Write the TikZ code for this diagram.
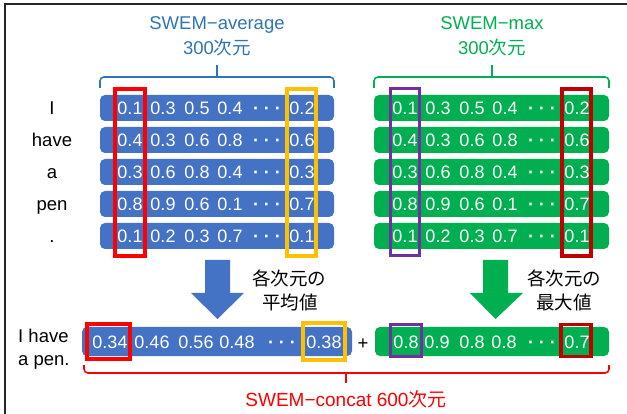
\documentclass[tikz,border=0pt]{standalone}
\usepackage{fontspec}
\setmainfont{Liberation Sans}
\newfontfamily\jp{Noto Sans CJK JP}
\definecolor{swblue}{HTML}{2E75B6}
\definecolor{barblue}{HTML}{4472C4}
\definecolor{bargreen}{HTML}{00B050}
\definecolor{hlred}{HTML}{FF0000}
\definecolor{hlyellow}{HTML}{FFC000}
\definecolor{hlpurple}{HTML}{7030A0}
\definecolor{hldarkred}{HTML}{C00000}
\tikzset{
  bar/.style={rounded corners=5pt, minimum height=26pt, inner sep=0pt, draw=none},
  num/.style={text=white, font=\fontsize{18}{20}\selectfont, anchor=base, inner sep=0pt},
  word/.style={font=\fontsize{18.5}{20}\selectfont, anchor=base, inner sep=0pt},
  titletext/.style={font=\fontsize{18.5}{20}\selectfont, anchor=base, inner sep=0pt},
  hl/.style={draw, line width=3.5pt, inner sep=0pt, fill=none},
  bracket/.style={line width=1.6pt, rounded corners=4pt},
}
\begin{document}
\begin{tikzpicture}[x=1pt,y=-1pt]
\useasboundingbox (0,0) rectangle (627,414);
% frame
\draw[line width=2pt, black!85] (4.5,414) -- (4.5,4.5) -- (627,4.5);

% titles
\node[titletext, text=swblue] (tA) at (217,29.5) {SWEM−average};
\node[titletext, text=swblue] (tA2) at (217,54.5) {300{\jp 次元}};
\node[titletext, text=bargreen] (tM) at (492,29.5) {SWEM−max};
\node[titletext, text=bargreen] (tM2) at (492,54.5) {300{\jp 次元}};

% top brackets
\draw[bracket, swblue] (100,88) -- (100,77) -- (334,77) -- (334,88);
\draw[line width=1.6pt, swblue] (217,77) -- (217,65);
\draw[bracket, bargreen] (374,88) -- (374,77) -- (609,77) -- (609,88);
\draw[line width=1.6pt, bargreen] (492,77) -- (492,65);

% rows
\foreach \r/\w/\a/\b/\c/\d/\e in {1/I/0.1/0.3/0.5/0.4/0.2, 2/have/0.4/0.3/0.6/0.8/0.6, 3/a/0.3/0.6/0.8/0.4/0.3, 4/pen/0.8/0.9/0.6/0.1/0.7, 5/./0.1/0.2/0.3/0.7/0.1}{
  \pgfmathsetmacro\yc{76+32*\r}
  \pgfmathsetmacro\yb{\yc+6.5}
  \node[word] (w\r) at (52,\yb) {\w};
  \node[bar, fill=barblue, minimum width=234pt] (B\r) at (217,\yc) {};
  \node[bar, fill=bargreen, minimum width=235pt] (G\r) at (491.5,\yc) {};
  \foreach \x/\v in {130/\a,163/\b,197/\c,230/\d,302/\e}{
    \node[num] at (\x,\yb) {\v};
    \node[num] at (\x+275,\yb) {\v};
  }
  \node[num, font=\bfseries\fontsize{18}{20}\selectfont] at (267,\yb) {· · ·};
  \node[num, font=\bfseries\fontsize{18}{20}\selectfont] at (542,\yb) {· · ·};
}

% top highlight boxes
\node[hl, draw=hlred, line width=4pt, minimum width=30pt, minimum height=167pt] (hR) at (130,172.5) {};
\node[hl, draw=hlyellow, minimum width=29pt, minimum height=167pt] (hY) at (301.5,172.5) {};
\node[hl, draw=hlpurple, line width=3pt, minimum width=29pt, minimum height=167pt] (hP) at (405,172.5) {};
\node[hl, draw=hldarkred, minimum width=29pt, minimum height=167pt] (hD) at (576.5,172.5) {};

% block arrows
\fill[barblue] (205,260) -- (230,260) -- (230,293) -- (244,293) -- (217.5,319) -- (191,293) -- (205,293) -- cycle;
\fill[bargreen] (483,260) -- (508,260) -- (508,293) -- (523,293) -- (495.5,319) -- (470,293) -- (483,293) -- cycle;
\node[word] (lA1) at (289,286) {\jp 各次元の};
\node[word] (lA2) at (290,309) {\jp 平均値};
\node[word] (lM1) at (564,286) {\jp 各次元の};
\node[word] (lM2) at (564,309) {\jp 最大値};

% bottom sentence
\node[word, anchor=base west] (s1) at (18,342) {I have};
\node[word, anchor=base west] (s2) at (18,366) {a pen.};

% bottom bars
\node[bar, fill=barblue, minimum width=270pt, minimum height=29pt] (BB) at (217,341.5) {};
\node[bar, fill=bargreen, minimum width=234pt, minimum height=29pt] (GB) at (492,341.5) {};
\foreach \x/\v in {110/0.34,152/0.46,196/0.56,237/0.48,324/0.38}{
  \node[num] at (\x,348.5) {\v};
}
\node[num, font=\bfseries\fontsize{18}{20}\selectfont] at (282,348.5) {· · ·};
\foreach \x/\v in {406/0.8,437/0.9,472/0.8,504/0.8,577/0.7}{
  \node[num] at (\x,348.5) {\v};
}
\node[num, font=\bfseries\fontsize{18}{20}\selectfont] at (542,348.5) {· · ·};
\node[word] (plus) at (363,349.5) {+};

% bottom highlight boxes
\node[hl, draw=hlred, line width=4pt, minimum width=43pt, minimum height=35pt] (bR) at (108.5,341.5) {};
\node[hl, draw=hlyellow, minimum width=42pt, minimum height=37pt] (bY) at (324,341.5) {};
\node[hl, draw=hlpurple, line width=3pt, minimum width=31pt, minimum height=32pt] (bP) at (406,340.5) {};
\node[hl, draw=hldarkred, minimum width=30pt, minimum height=32pt] (bD) at (576,340.5) {};

% bottom bracket
\draw[bracket, hlred] (84,365) -- (84,373) -- (609,373) -- (609,365);
\draw[line width=1.6pt, hlred] (346,373) -- (346,383);
\node[titletext, text=hlred, font=\fontsize{19}{20}\selectfont] (tC) at (346,406) {SWEM−concat 600{\jp 次元}};
\end{tikzpicture}
\end{document}
